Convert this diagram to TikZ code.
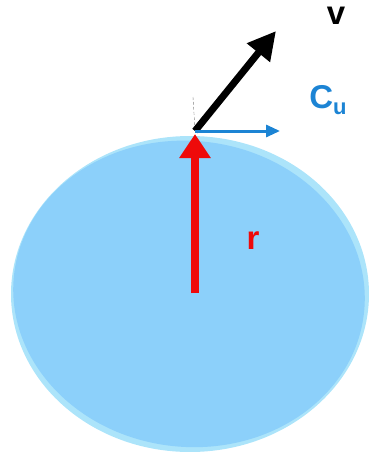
\documentclass[tikz,border=0pt]{standalone}
\usepackage{fontspec}
\setmainfont{Liberation Sans}
\usetikzlibrary{arrows.meta}
\definecolor{discfill}{RGB}{140,208,250}
\definecolor{discrim}{RGB}{172,228,250}
\definecolor{rred}{RGB}{238,10,10}
\definecolor{cublue}{RGB}{28,132,212}
\begin{document}
\begin{tikzpicture}[
    x=1pt, y=-1pt,
    line join=round,
    lbl/.style={font=\bfseries\fontsize{33}{33}\selectfont}
]
\useasboundingbox (0,0) rectangle (369,452);

\coordinate (O) at (195,293);
\coordinate (T) at (195,134);
\coordinate (V) at (276,31);
\coordinate (U) at (280,131);
\coordinate (D) at (193,97);

% disc with its rim
\fill[discrim] (190,294) ellipse [x radius=179, y radius=158];
\fill[discfill, rotate around={-6:(190,294)}] (189,294) ellipse [x radius=176, y radius=153];

\draw[gray, densely dashed, thin] (D) -- (195,130);
\draw[rred, line width=8pt, -{Triangle[width=30pt,length=24pt]}] (O) -- (T);
\draw[black, line width=7pt, -{Triangle[width=28pt,length=28pt]}] (195,131) -- (V);
\draw[cublue, line width=3pt, -{Triangle[width=12pt,length=14pt]}] (195,131) -- (U);

\node[lbl, black] (v) at (336,16) {v};
\node[lbl, cublue] (cu) at (328,100) {C\raisebox{-6pt}{\fontsize{22}{22}\selectfont u}};
\node[lbl, rred] (r) at (253,241) {r};
\end{tikzpicture}
\end{document}
